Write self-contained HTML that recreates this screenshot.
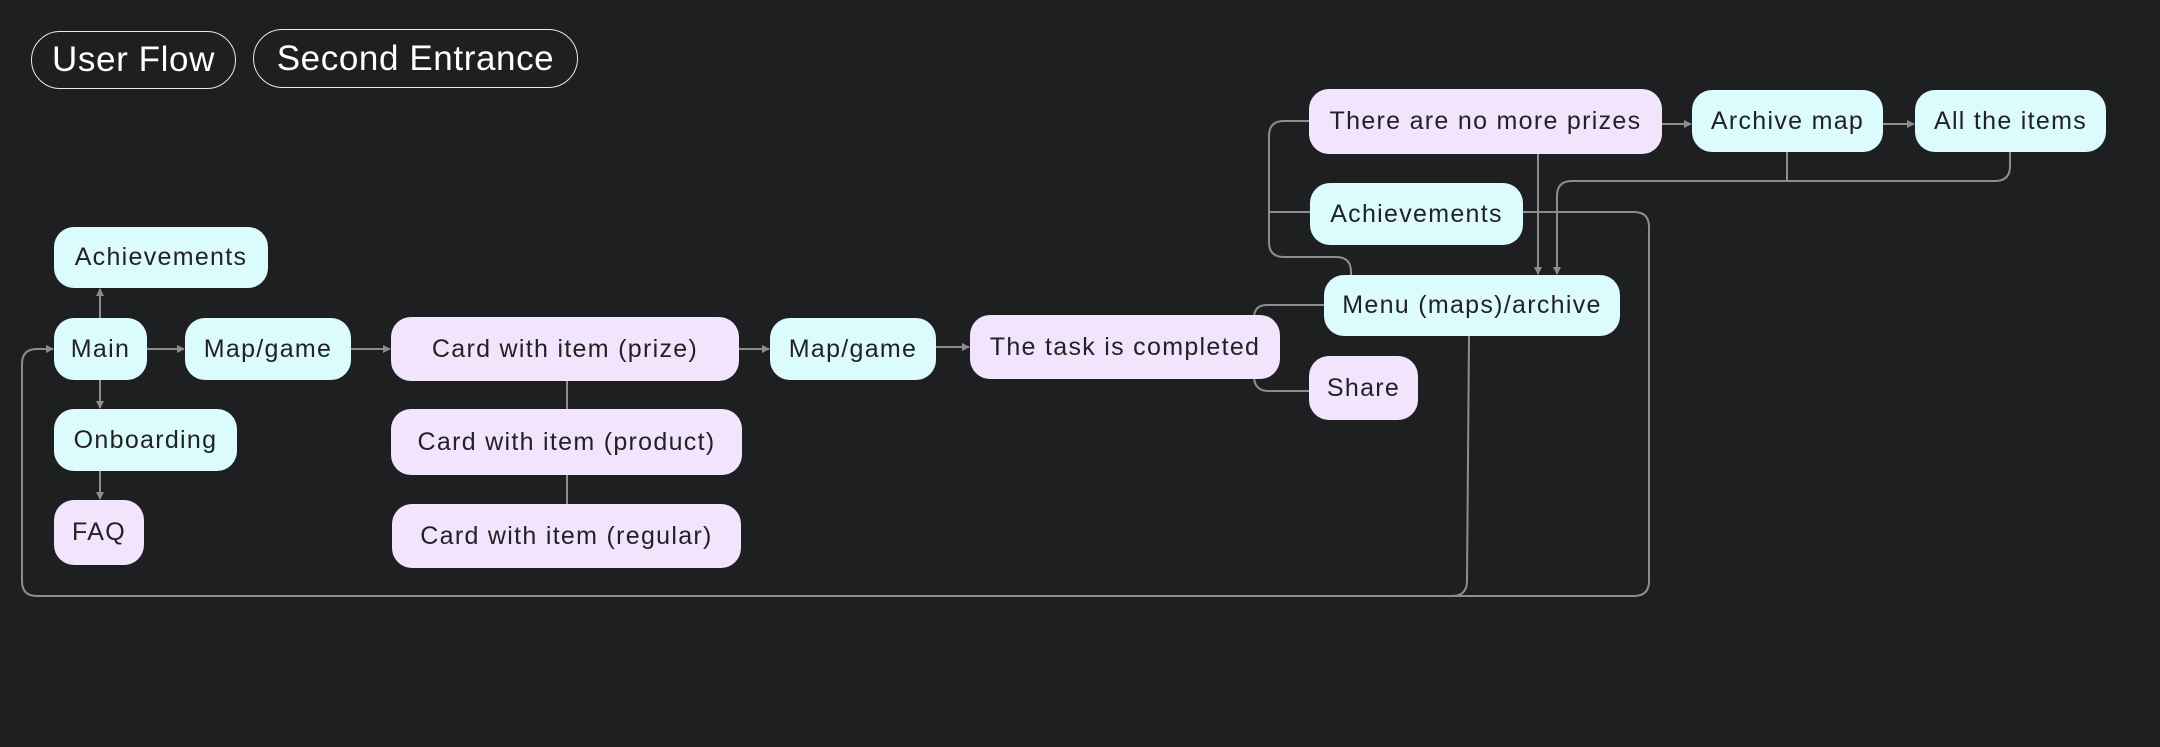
<!DOCTYPE html>
<html><head><meta charset="utf-8"><style>
body{margin:0;width:2160px;height:747px;background:#1e1f21;overflow:hidden;position:relative;font-family:"Liberation Sans",sans-serif}
.n{position:absolute;display:flex;align-items:center;justify-content:center;border-radius:20px;font-size:25px;letter-spacing:1.3px;color:#222;box-sizing:border-box;white-space:nowrap}
.c{background:#dcfbfd}.l{background:#f1e4fc}
.p{position:absolute;border:1.5px solid #e8e8e8;border-radius:30px;color:#fff;font-size:35px;display:flex;align-items:center;justify-content:center;box-sizing:border-box;letter-spacing:0.6px}
svg{position:absolute;left:0;top:0}
</style></head><body>
<svg width="2160" height="747" fill="none" stroke="#8d8d8d" stroke-width="2">
<defs><marker id="a" markerWidth="8" markerHeight="8" refX="7" refY="4" orient="auto" markerUnits="userSpaceOnUse"><path d="M0,0 L8,4 L0,8z" fill="#8d8d8d" stroke="none"/></marker></defs>
<path d="M100 318 L100 289" marker-end="url(#a)"/>
<path d="M100 380 L100 408" marker-end="url(#a)"/>
<path d="M100 471 L100 499" marker-end="url(#a)"/>
<path d="M147 349 L184 349" marker-end="url(#a)"/>
<path d="M351 349 L390 349" marker-end="url(#a)"/>
<path d="M739 349 L769 349" marker-end="url(#a)"/>
<path d="M936 347 L969 347" marker-end="url(#a)"/>
<path d="M567 381 L567 409 M567 475 L567 504"/>
<path d="M1254 318 Q1254 305 1267 305 L1324 305"/>
<path d="M1254 376 Q1254 391 1269 391 L1309 391"/>
<path d="M1309 121 L1284 121 Q1269 121 1269 136 L1269 242 Q1269 257 1284 257 L1336 257 Q1351 257 1351 272 L1351 275 M1269 212 L1310 212"/>
<path d="M1538 154 L1538 274" marker-end="url(#a)"/>
<path d="M1662 124 L1691 124" marker-end="url(#a)"/>
<path d="M1883 124 L1914 124" marker-end="url(#a)"/>
<path d="M2010 152 L2010 166 Q2010 181 1995 181 L1572 181 Q1557 181 1557 196 L1557 274" marker-end="url(#a)"/>
<path d="M1787 152 L1787 181"/>
<path d="M1469 336 L1467 581 Q1467 596 1452 596 L37 596 Q22 596 22 581 L22 364 Q22 349 37 349 L53 349" marker-end="url(#a)"/>
<path d="M1523 212 L1634 212 Q1649 212 1649 227 L1649 581 Q1649 596 1634 596 L1452 596"/>
</svg>
<div class="p" style="left:31px;top:31px;width:205px;height:58px">User Flow</div>
<div class="p" style="left:253px;top:29px;width:325px;height:59px">Second Entrance</div>
<div class="n c" style="left:54px;top:227px;width:214px;height:61px">Achievements</div>
<div class="n c" style="left:54px;top:318px;width:93px;height:62px">Main</div>
<div class="n c" style="left:185px;top:318px;width:166px;height:62px">Map/game</div>
<div class="n c" style="left:54px;top:409px;width:183px;height:62px">Onboarding</div>
<div class="n l" style="left:54px;top:500px;width:90px;height:65px">FAQ</div>
<div class="n l" style="left:391px;top:317px;width:348px;height:64px">Card with item (prize)</div>
<div class="n l" style="left:391px;top:409px;width:351px;height:66px">Card with item (product)</div>
<div class="n l" style="left:392px;top:504px;width:349px;height:64px">Card with item (regular)</div>
<div class="n c" style="left:770px;top:318px;width:166px;height:62px">Map/game</div>
<div class="n l" style="left:970px;top:315px;width:310px;height:64px">The task is completed</div>
<div class="n l" style="left:1309px;top:89px;width:353px;height:65px">There are no more prizes</div>
<div class="n c" style="left:1310px;top:183px;width:213px;height:62px">Achievements</div>
<div class="n c" style="left:1324px;top:275px;width:296px;height:61px">Menu (maps)/archive</div>
<div class="n l" style="left:1309px;top:356px;width:109px;height:64px">Share</div>
<div class="n c" style="left:1692px;top:90px;width:191px;height:62px">Archive map</div>
<div class="n c" style="left:1915px;top:90px;width:191px;height:62px">All the items</div>
</body></html>
